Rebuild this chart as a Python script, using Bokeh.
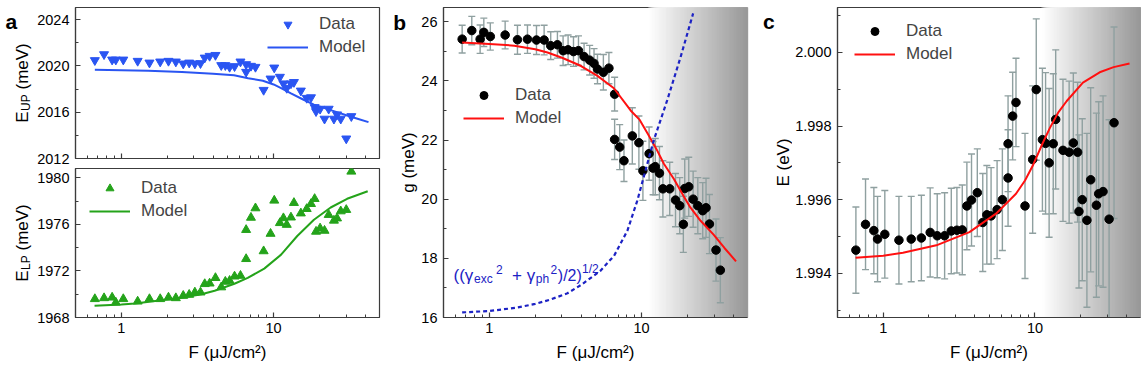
import numpy as np
from math import pi
from bokeh.plotting import figure
from bokeh.models import (Range1d, FixedTicker, NumeralTickFormatter, Label,
                          Legend, LegendItem, BoxAnnotation)
from bokeh.layouts import row, column
from bokeh.embed import file_html
from bokeh.resources import INLINE

# ------------------------------------------------------------------ data
# panel a (shared fluence grid, uJ/cm^2)
F_a = [0.67, 0.77, 0.87, 0.92, 1.03, 1.28, 1.53, 1.80, 2.04, 2.28, 2.55, 2.79, 3.04,
       3.31, 3.53, 3.80, 4.15, 4.53, 4.82, 5.14, 5.54, 6.06, 6.6, 6.6, 7.1, 7.6, 8.6,
       9.55, 10.1, 11.0, 11.6, 12.2, 13.0, 13.6, 15.1, 16.5, 17.6, 18.6, 19.0, 20.2,
       21.6, 23.0, 24.9, 26.1, 27.6, 30.0, 32.4]
E_UP = [2020.49, 2021.0, 2020.54, 2020.54, 2020.54, 2020.43, 2020.28, 2020.37, 2020.43,
        2020.37, 2020.2, 2020.28, 2020.2, 2020.23, 2020.71, 2020.86, 2020.94, 2020.06,
        2020.06, 2019.91, 2019.97, 2020.37, 2020.14, 2019.48, 2020.0, 2019.91, 2017.92,
        2018.9, 2019.85, 2019.05, 2018.48, 2018.09, 2018.48, 2018.6, 2017.86, 2017.23,
        2017.28, 2016.43, 2016.08, 2016.29, 2015.43, 2016.29, 2015.43, 2015.8, 2015.43,
        2013.72, 2015.65]
E_LP = [1969.59, 1969.67, 1969.72, 1969.29, 1969.59, 1969.38, 1969.59, 1969.59, 1969.72,
        1969.67, 1969.87, 1969.96, 1970.16, 1970.16, 1970.88, 1970.93, 1971.4, 1970.6,
        1971.08, 1971.16, 1971.53, 1971.59, 1973.03, 1975.53, 1976.58, 1977.39, 1973.7,
        1975.2, 1978.05, 1976.12, 1976.54, 1975.97, 1976.6, 1977.85, 1976.95, 1977.33,
        1977.76, 1978.19, 1975.38, 1975.66, 1975.46, 1976.82, 1976.33, 1976.52, 1977.13,
        1977.25, 1980.54]
F_up_model = [0.67, 1.0, 1.5, 2.5, 4.0, 5.5, 6.8, 8.5, 10.0, 11.2, 13.0, 15.5, 18.4,
              24.0, 30.4, 36.0, 42.0]
E_up_model = [2019.66, 2019.63, 2019.58, 2019.48, 2019.33, 2019.2, 2018.94, 2018.72,
              2018.4, 2018.09, 2017.62, 2017.12, 2016.66, 2016.16, 2015.71, 2015.42, 2015.14]
F_lp_model = [0.667, 1.0, 1.23, 2.48, 3.36, 4.1, 5.53, 6.76, 8.68, 11.2, 14.3, 18.4,
              23.7, 30.4, 41.5]
E_lp_model = [1969.0, 1969.12, 1969.21, 1969.7, 1970.0, 1970.3, 1970.9, 1971.4, 1972.2,
              1973.4, 1975.0, 1976.4, 1977.45, 1978.2, 1978.85]

# panel b
F_b = [0.663, 0.767, 0.87, 0.92, 1.015, 1.27, 1.53, 1.78, 2.04, 2.29, 2.53, 2.8, 3.05,
       3.29, 3.57, 3.85, 4.19, 4.56, 4.87, 5.13, 5.61, 6.1, 6.65, 6.65, 7.18, 7.66, 8.69,
       9.6, 10.2, 11.2, 11.9, 12.3, 13.1, 13.8, 15.3, 16.7, 17.8, 18.8, 19.2, 20.4, 21.8,
       23.4, 25.2, 26.5, 27.9, 30.8, 32.9]
g_data = [25.41, 25.7, 25.41, 25.64, 25.5, 25.55, 25.39, 25.41, 25.38, 25.38, 25.19,
          25.22, 25.02, 25.05, 24.99, 25.02, 24.82, 24.7, 24.59, 24.4, 24.29, 24.43, 23.55,
          22.02, 21.76, 21.3, 22.14, 21.91, 20.96, 21.54, 21.05, 21.1, 20.88, 20.35, 20.35,
          19.97, 19.78, 19.15, 20.36, 20.42, 20.0, 19.78, 19.61, 19.71, 19.16, 18.28, 17.6]
g_err = [0.47, 0.48, 0.48, 0.48, 0.46, 0.47, 0.49, 0.48, 0.49, 0.5, 0.47, 0.45, 0.5, 0.5,
         0.5, 0.5, 0.45, 0.5, 0.5, 0.5, 0.6, 0.53, 0.57, 0.68, 0.76, 0.7, 0.95, 0.9, 1.0,
         0.9, 0.9, 0.95, 0.9, 0.95, 0.9, 0.9, 0.95, 0.95, 1.0, 1.0, 0.95, 0.95, 0.95, 1.0,
         1.0, 1.05, 1.1]
F_g_model = [0.663, 1.0, 1.46, 2.0, 2.41, 3.0, 3.98, 5.13, 6.58, 8.47, 9.72, 11.0, 12.5,
             14.0, 16.3, 18.9, 20.9, 24.4, 29.7, 35.0, 41.7]
g_model = [25.3, 25.25, 25.19, 25.07, 24.96, 24.78, 24.51, 24.17, 23.75, 23.0, 22.68,
           22.2, 21.7, 21.2, 20.68, 20.1, 19.72, 19.27, 18.8, 18.35, 17.9]
F_gamma = [0.663, 1.0, 1.5, 2.0, 2.5, 3.26, 4.0, 5.37, 6.6, 8.06, 9.37, 10.3, 12.0, 14.7,
           18.0, 21.8]
gamma_avg = [16.17, 16.22, 16.33, 16.46, 16.6, 16.82, 17.1, 17.58, 18.09, 18.93, 19.95,
             20.73, 21.98, 23.33, 24.79, 26.28]

# panel c
F_c = [0.661, 0.765, 0.868, 0.918, 1.025, 1.27, 1.53, 1.785, 2.04, 2.27, 2.54, 2.81,
       3.06, 3.32, 3.56, 3.82, 4.17, 4.53, 4.82, 5.14, 5.63, 6.1, 6.65, 6.65, 7.13, 7.5,
       8.6, 9.66, 10.2, 11.2, 11.75, 12.4, 13.2, 13.7, 15.3, 16.8, 17.9, 19.1, 19.5, 20.5,
       22.0, 23.3, 25.4, 26.3, 28.1, 30.8, 33.2]
E_c = [1.99463, 1.99533, 1.99516, 1.99493, 1.99506, 1.9949, 1.99493, 1.99496, 1.99511,
       1.99502, 1.99502, 1.99515, 1.99517, 1.99518, 1.99583, 1.99599, 1.99619, 1.99538,
       1.99559, 1.99556, 1.99573, 1.996, 1.99659, 1.99752, 1.99827, 1.99864, 1.99583,
       1.99709, 1.99899, 1.99763, 1.99753, 1.997, 1.99752, 1.99818, 1.99734, 1.99729,
       1.99754, 1.99729, 1.99568, 1.996, 1.99544, 1.99654, 1.99585, 1.99616, 1.99622,
       1.99547, 1.99809]
E_c_err = [0.00117, 0.00123, 0.00117, 0.00116, 0.00119, 0.00119, 0.00116, 0.00116,
           0.00121, 0.00114, 0.00117, 0.00116, 0.00116, 0.00122, 0.00119, 0.00125,
           0.00119, 0.00133, 0.00134, 0.00131, 0.00133, 0.00138, 0.00131, 0.0013,
           0.00119, 0.0012, 0.00197, 0.002, 0.00192, 0.00194, 0.00192, 0.00202, 0.0019,
           0.00189, 0.00193, 0.00193, 0.0019, 0.0019, 0.00208, 0.0022, 0.00236, 0.0025,
           0.0025, 0.0025, 0.0026, 0.0027, 0.0026]
F_c_model = [0.658, 1.0, 1.35, 2.24, 3.7, 5.54, 7.5, 8.6, 9.74, 11.2, 12.55, 14.3, 16.2,
             20.7, 26.7, 33.0, 42.0]
E_c_model = [1.99442, 1.99448, 1.99456, 1.99476, 1.99512, 1.99562, 1.99616, 1.99652,
             1.99695, 1.99752, 1.99795, 1.99838, 1.99868, 1.99918, 1.99946, 1.9996, 1.9997]

X_LABEL = "F (\u03bcJ/cm\u00b2)"
F_RANGE = (0.5, 49.6)
X_MAJOR = [1, 10]
X_MINOR = [0.6, 0.7, 0.8, 0.9, 2, 3, 4, 5, 6, 7, 8, 9, 20, 30, 40]
SHADE_FROM = 11.0

# ------------------------------------------------------------------ style
FONT = "Liberation Sans"
FRAME = "#3c3c3c"
BLUE = "#2a55f2"
GREEN = "#24a31a"
RED = "#ff1010"
DASH_BLUE = "#1c22c4"
ERR = "#8fa0a0"
H = 366          # total height (px)
TOP, BOT = 7, 49  # frame borders shared by the row

ARIAL = {'E': .667, 'U': .722, 'P': .667, 'L': .556, ' ': .278, '(': .333, ')': .333,
         'm': .833, 'e': .556, 'V': .667, 'x': .5, 'c': .5, '+': .584, 'p': .556,
         'h': .556, '2': .556, '/': .278, '1': .556, 'g': .556}


def tw(s, size):
    return size * sum(ARIAL.get(ch, .556) for ch in s)


def make_fig(width, height, y_range, borders):
    l, r, t, b = borders
    p = figure(width=width, height=height, x_axis_type="log",
               x_range=Range1d(*F_RANGE), y_range=Range1d(*y_range),
               output_backend="svg", toolbar_location=None,
               min_border_left=l, min_border_right=r, min_border_top=t,
               min_border_bottom=b, background_fill_color="white",
               border_fill_color="white", outline_line_color=FRAME,
               outline_line_width=1.2)
    p.grid.visible = False
    p.xaxis.ticker = FixedTicker(ticks=X_MAJOR, minor_ticks=X_MINOR)
    p.xaxis.formatter = NumeralTickFormatter(format="0")
    for ax in (p.xaxis[0], p.yaxis[0]):
        ax.axis_line_color = FRAME
        ax.axis_line_width = 1.2
        ax.major_tick_in = 5
        ax.major_tick_out = 0
        ax.minor_tick_in = 3
        ax.minor_tick_out = 0
        ax.major_tick_line_color = FRAME
        ax.minor_tick_line_color = FRAME
        ax.major_tick_line_width = 1.2
        ax.minor_tick_line_width = 1
        ax.major_label_text_font = FONT
        ax.major_label_text_font_size = "14.5px"
        ax.major_label_text_color = "black"
        ax.axis_label_text_font = FONT
        ax.axis_label_text_font_size = "17px"
        ax.axis_label_text_font_style = "normal"
        ax.axis_label_text_color = "black"
    p.xaxis.major_label_standoff = 5
    p.xaxis.axis_label_standoff = 7
    p.yaxis.major_label_standoff = 6
    return p


def strip(width):
    # narrow axis-less figure; its frame is aligned with the row's frames
    # (TOP..H-BOT), data y = distance from the page bottom in px
    s = figure(width=width, height=H, x_range=Range1d(0, width),
               y_range=Range1d(BOT, H - TOP), x_axis_type=None, y_axis_type=None,
               output_backend="svg", toolbar_location=None, min_border_left=0,
               min_border_right=0, min_border_top=TOP, min_border_bottom=BOT,
               outline_line_color=None, background_fill_color="white",
               border_fill_color="white", title=None)
    return s


def add_legend(p, r_data, r_model, loc):
    leg = Legend(items=[LegendItem(label="Data", renderers=[r_data]),
                        LegendItem(label="Model", renderers=[r_model])],
                 location=loc, padding=0, margin=0, spacing=3, glyph_width=41,
                 glyph_height=20, label_height=20, label_standoff=11,
                 label_text_font=FONT, label_text_font_size="17px",
                 border_line_alpha=0, background_fill_alpha=0)
    p.add_layout(leg)


def letter(p, txt, x, y):
    p.add_layout(Label(x=x, y=y, text=txt, text_font=FONT, text_font_size="21px",
                       text_font_style="bold", text_color="black", text_align="left",
                       text_baseline="alphabetic"))


def vlabel(p, parts, x0, center):
    # parts: (text, size, shift, pre_gap); rotated rich text reading upwards
    total = sum(tw(t, s) + g for t, s, _, g in parts)
    pos = center - total / 2
    for t, s, shift, g in parts:
        pos += g
        p.add_layout(Label(x=x0 - shift, y=pos, text=t, angle=pi / 2, text_font=FONT,
                           text_font_size=f"{s}px", text_color="black",
                           text_align="left", text_baseline="alphabetic"))
        pos += tw(t, s)


def shade(p):
    n = 90
    edges = np.logspace(np.log10(SHADE_FROM), np.log10(F_RANGE[1]), n + 1)
    for i in range(n):
        v = int(round(255 - (255 - 152) * i / (n - 1)))
        col = "#%02x%02x%02x" % (v, v, v)
        p.add_layout(BoxAnnotation(left=edges[i], fill_color=col, fill_alpha=1.0,
                                   line_alpha=0, level="underlay"))


def error_points(p, F, y, err):
    y = np.array(y)
    err = np.array(err)
    lo, hi = y - err, y + err
    p.segment(x0=F, y0=lo, x1=F, y1=hi, line_color=ERR, line_width=1.4)
    p.scatter(F, lo, marker="dash", size=7, line_color=ERR, line_width=1.4)
    p.scatter(F, hi, marker="dash", size=7, line_color=ERR, line_width=1.4)
    return p.scatter(F, y, marker="circle", size=8.5, fill_color="black",
                     line_color="black")


# ------------------------------------------------------------------ panel a
sa = strip(34)
letter(sa, "a", 5, H - 21)

pa_top = make_fig(356, 166, (2012, 2025.05), (40, 11, TOP, 8))
pa_top.yaxis.ticker = FixedTicker(ticks=[2012, 2016, 2020, 2024],
                                  minor_ticks=[2014, 2018, 2022])
pa_top.xaxis.major_label_overrides = {1: "", 10: ""}
pa_top.xaxis.major_label_text_font_size = "1px"
pa_top.xaxis.major_label_standoff = 0
r1 = pa_top.scatter(F_a, E_UP, marker="inverted_triangle", size=9, fill_color=BLUE,
                    line_color=BLUE)
r2 = pa_top.line(F_up_model, E_up_model, line_color=BLUE, line_width=2)
add_legend(pa_top, r1, r2, (192, 101))
vlabel(sa, [("E", 17, 0, 0), ("UP", 12, -4, 0.5), ("(meV)", 17, 0, 4.7)], 21.5,
       H - 82.5)

pa_bot = make_fig(356, 200, (1968, 1980.8), (40, 11, 2, BOT))
pa_bot.yaxis.ticker = FixedTicker(ticks=[1968, 1972, 1976, 1980],
                                  minor_ticks=[1970, 1974, 1978])
pa_bot.xaxis.axis_label = X_LABEL
r3 = pa_bot.scatter(F_a, E_LP, marker="triangle", size=9, fill_color=GREEN,
                    line_color=GREEN)
r4 = pa_bot.line(F_lp_model, E_lp_model, line_color=GREEN, line_width=2)
add_legend(pa_bot, r3, r4, (14, 96))
vlabel(sa, [("E", 17, 0, 0), ("LP", 12, -4, 0.5), ("(meV)", 17, 0, 4.7)], 21.5,
       H - 242.5)

# ------------------------------------------------------------------ panel b
sb = strip(28)
letter(sb, "b", 2.7, H - 22.3)
vlabel(sb, [("g (meV)", 17, 0, 0)], 18, H - 162)

pb = make_fig(344, H, (16, 26.48), (25, 15, TOP, BOT))
pb.yaxis.ticker = FixedTicker(ticks=[16, 18, 20, 22, 24, 26],
                              minor_ticks=[17, 19, 21, 23, 25])
pb.xaxis.axis_label = X_LABEL
shade(pb)
rb = error_points(pb, F_b, g_data, g_err)
rbm = pb.line(F_g_model, g_model, line_color=RED, line_width=2)
pb.line(F_gamma, gamma_avg, line_color=DASH_BLUE, line_width=2.2, line_dash="4 3")
add_legend(pb, rb, rbm, (20, 189))
gamma_parts = [("((\u03b3", 17, 0, 10), ("exc", 12, -3, 30.5), ("2", 12, 6.5, 52.5),
               ("+ \u03b3", 17, 0, 68.5), ("ph", 12, -3, 92.3), ("2", 12, 6.5, 107),
               (")/2)", 16, 0, 114.3), ("1/2", 12, 6.5, 138.5)]
for t, s, shift, x in gamma_parts:
    pb.add_layout(Label(x=x, y=42 + shift, x_units="screen", y_units="screen", text=t,
                        text_font=FONT, text_font_size=f"{s}px", text_color=DASH_BLUE,
                        text_align="left", text_baseline="alphabetic"))

# ------------------------------------------------------------------ panel c
sc = strip(30)
letter(sc, "c", 0.5, H - 21)
vlabel(sc, [("E (eV)", 17, 0, 0)], 21.3, H - 162)

pc = make_fig(349, H, (1.9928, 2.00122), (45, 1, TOP, BOT))
pc.yaxis.ticker = FixedTicker(ticks=[1.994, 1.996, 1.998, 2.000],
                              minor_ticks=[1.993, 1.995, 1.997, 1.999, 2.001])
pc.yaxis.formatter = NumeralTickFormatter(format="0.000")
pc.xaxis.axis_label = X_LABEL
shade(pc)
rc = error_points(pc, F_c, E_c, E_c_err)
rcm = pc.line(F_c_model, E_c_model, line_color=RED, line_width=2)
add_legend(pc, rc, rcm, (17, 253))

layout = row(sa, column(pa_top, pa_bot), sb, pb, sc, pc)
open("out.html", "w").write(file_html(layout, INLINE))
